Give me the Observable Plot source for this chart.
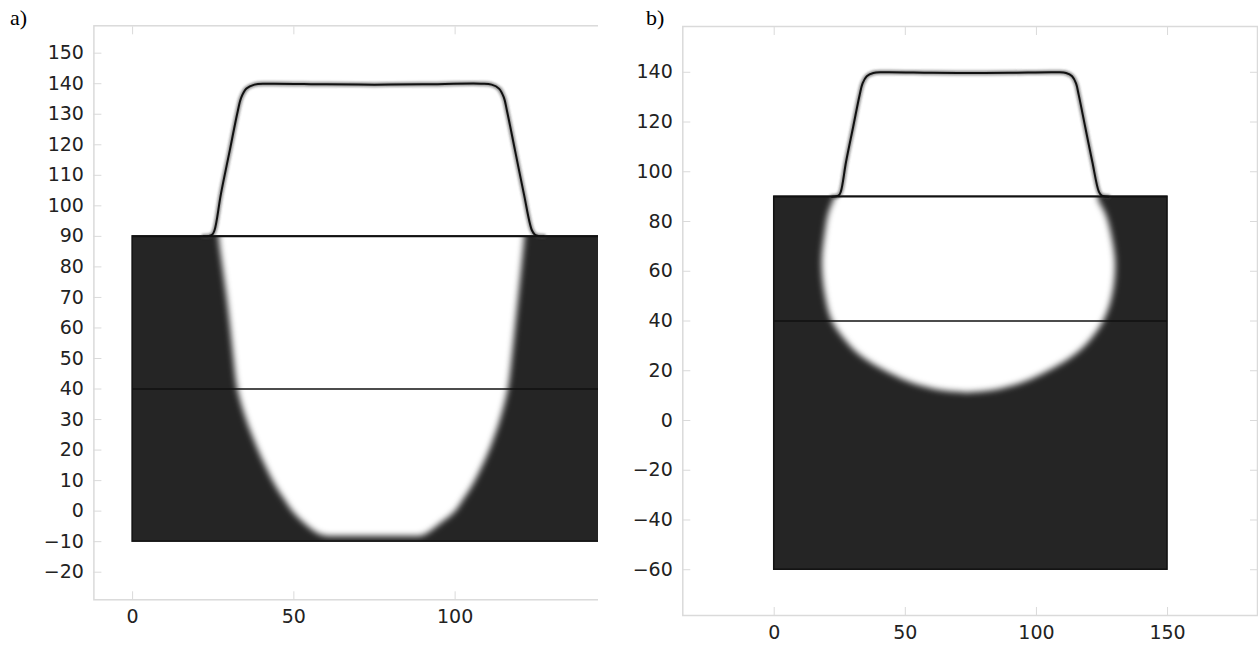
<!DOCTYPE html>
<html><head><meta charset="utf-8">
<script src="https://cdn.jsdelivr.net/npm/d3@7"></script>
<script src="https://cdn.jsdelivr.net/npm/@observablehq/plot@0.6"></script>
<style>
body{margin:0;background:#fff;width:1258px;height:649px;overflow:hidden;position:relative;font-family:"DejaVu Sans"}
.panel{position:absolute;top:0;overflow:hidden;height:649px}
.panel svg{max-width:none !important}
.lab{position:absolute;font-family:"Liberation Serif","Times New Roman",serif;font-size:22px;line-height:22px;color:#000}
</style></head><body>
<div id="pa" class="panel" style="left:0;width:598px"></div>
<div id="pb" class="panel" style="left:630px;width:628px"></div>
<div class="lab" style="left:10px;top:7px">a)</div>
<div class="lab" style="left:646px;top:7px">b)</div>
<script>
// ---- data ----
// mask / resist profile above the substrate (same in both panels)
const profileX = [22, 24.6, 25.4, 27.4, 30.1, 32.6, 33.7, 35.3, 37.8, 41.5, 60, 75, 90, 108, 111.3, 113.6, 115.1, 116.1, 118.6, 121.3, 123.8, 124.8, 127.5];
const profileY = [90, 90.5, 92, 104, 118, 131, 135.5, 138.4, 139.7, 140, 139.8, 139.7, 139.8, 140, 139.7, 138.4, 135.5, 131, 118, 104, 92, 90.5, 90];

// interfaces (horizontal lines)
const interfacesY = [90, 40];

// panel a: substrate and etched cavity
const subA_x = [0, 150];
const subA_y = [-10, 90];
const etchA_y     = [94, 90, 80, 70, 60, 50, 40, 30, 22, 15.5, 9, 4.6, 0, -3.5, -6.3, -7.6, -8.3];
const etchA_left  = [26.8, 26.8, 28, 29.3, 30.4, 31.4, 32.6, 35.3, 38.2, 40.9, 44, 46.6, 49.6, 52.7, 55.9, 57.9, 60.3];
const etchA_right = [121.6, 121.6, 120.7, 119.7, 118.7, 117.7, 116.5, 114.1, 111.5, 108.9, 105.8, 103.2, 100.2, 96.3, 92.9, 91.1, 89.3];

// panel b: substrate and etched cavity
const subB_x = [0, 150];
const subB_y = [-60, 90];
const etchB_y     = [94, 90.2, 88.4, 83.1, 76.4, 63, 49.6, 40, 32.2, 25.5, 18.8, 14.8, 12.1, 11.1];
const etchB_left  = [23.4, 23.4, 22.7, 20.8, 19.6, 18.3, 19.6, 22.1, 27.2, 33.6, 44.4, 53.2, 63.4, 73.6];
const etchB_right = [123.6, 123.6, 123.8, 126.4, 128.3, 130.2, 128.9, 125.7, 120.6, 113.7, 102.8, 93.9, 83.8, 73.6];

// ticks
const ticksAx = [0, 50, 100, 150];
const ticksAy = [150, 140, 130, 120, 110, 100, 90, 80, 70, 60, 50, 40, 30, 20, 10, 0, -10, -20];
const ticksBx = [0, 50, 100, 150];
const ticksBy = [140, 120, 100, 80, 60, 40, 20, 0, -20, -40, -60];

function panel(cfg) {
  const etch = cfg.etchY.map((y, i) => ({y, x1: cfg.etchL[i], x2: cfg.etchR[i]}));
  const prof = profileX.map((x, i) => ({x, y: profileY[i]}));
  const rect = [{x1: cfg.subX[0], x2: cfg.subX[1], y1: cfg.subY[0], y2: cfg.subY[1]}];
  const rules = interfacesY.map(y => ({y, x1: cfg.subX[0], x2: cfg.subX[1]}));
  const tickCol = "#dadada";
  const svg = Plot.plot({
    width: cfg.width, height: 649,
    marginLeft: cfg.mL, marginRight: cfg.mR, marginTop: cfg.mT, marginBottom: cfg.mB,
    x: {domain: cfg.xDomain},
    y: {domain: cfg.yDomain},
    style: {fontFamily: "DejaVu Sans", fontSize: "19px", color: "#222", background: "transparent", maxWidth: "none"},
    marks: [
      Plot.rect(rect, {x1: "x1", x2: "x2", y1: "y1", y2: "y2", fill: "#252525"}),
      Plot.areaX(etch, {y: "y", x1: "x1", x2: "x2", fill: "white", curve: "catmull-rom"}),
      Plot.rect(rect, {x1: "x1", x2: "x2", y1: "y1", y2: "y2", fill: "none", stroke: "#111", strokeWidth: 1.5}),
      Plot.line(prof, {x: "x", y: "y", stroke: "#444", strokeWidth: 5, strokeOpacity: 0.55, curve: "catmull-rom"}),
      Plot.line(prof, {x: "x", y: "y", stroke: "#111", strokeWidth: 2, curve: "catmull-rom"}),
      Plot.ruleY(rules, {y: "y", x1: "x1", x2: "x2", stroke: "#111", strokeWidth: 1.6}),
      Plot.frame({stroke: tickCol, strokeWidth: 1.5}),
      Plot.axisX(cfg.xTicks, {anchor: "bottom", tickSize: 8, dy: -8, stroke: tickCol, tickFormat: () => "", label: null}),
      Plot.axisX(cfg.xTicks, {anchor: "top", tickSize: 8, dy: 8, stroke: tickCol, tickFormat: () => "", label: null}),
      Plot.axisY(cfg.yTicks, {anchor: "left", tickSize: 8, dx: 8, stroke: tickCol, tickFormat: () => "", label: null}),
      Plot.axisY(cfg.yTicks, {anchor: "right", tickSize: 8, dx: -8, stroke: tickCol, tickFormat: () => "", label: null}),
      Plot.axisX(cfg.xTicks, {anchor: "bottom", tickSize: 0, tickPadding: 10, label: null, fill: "#222"}),
      Plot.axisY(cfg.yTicks, {anchor: "left", tickSize: 0, tickPadding: 10, label: null, fill: "#222"})
    ]
  });
  const s = d3.select(svg);
  s.style("max-width", "none");
  const defs = s.insert("defs", ":first-child");
  defs.append("filter").attr("id", cfg.id + "blur")
    .attr("x", "-20%").attr("y", "-20%").attr("width", "140%").attr("height", "140%")
    .append("feGaussianBlur").attr("stdDeviation", 3);
  defs.append("filter").attr("id", cfg.id + "soft")
    .attr("x", "-20%").attr("y", "-20%").attr("width", "140%").attr("height", "140%")
    .append("feGaussianBlur").attr("stdDeviation", 1.2);
  s.selectAll('g[aria-label="area"]').attr("filter", `url(#${cfg.id}blur)`);
  s.selectAll('g[aria-label="line"]').filter((d, i) => i === 0).attr("filter", `url(#${cfg.id}soft)`);
  document.getElementById(cfg.id).appendChild(svg);
}

panel({
  id: "pa", width: 655, mL: 93.4, mR: 0.4, mT: 25.3, mB: 49.7,
  xDomain: [-12, 162], yDomain: [-29.04, 158.97],
  subX: subA_x, subY: subA_y, etchY: etchA_y, etchL: etchA_left, etchR: etchA_right,
  xTicks: ticksAx, yTicks: ticksAy
});
panel({
  id: "pb", width: 628, mL: 52.3, mR: 1, mT: 26, mB: 34,
  xDomain: [-34.86, 184.3], yDomain: [-78.4, 158.4],
  subX: subB_x, subY: subB_y, etchY: etchB_y, etchL: etchB_left, etchR: etchB_right,
  xTicks: ticksBx, yTicks: ticksBy
});
</script>
</body></html>
